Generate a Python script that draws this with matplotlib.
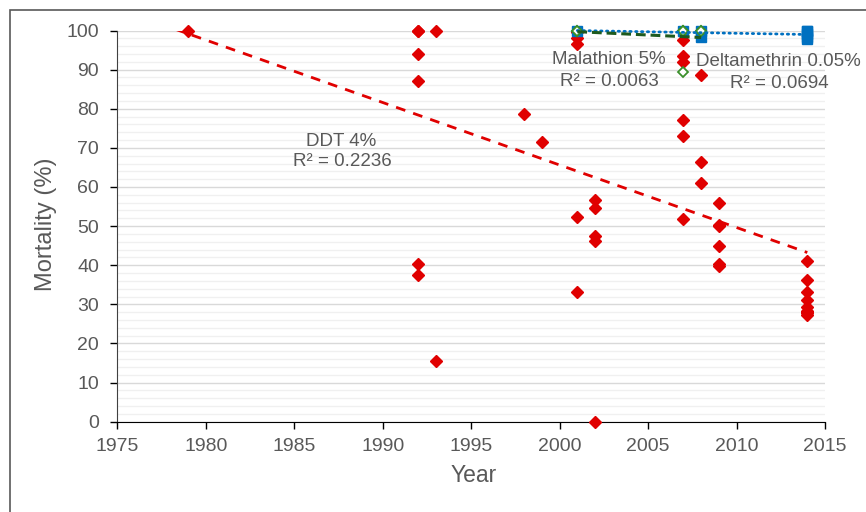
import numpy as np
import matplotlib
matplotlib.use("Agg")
import matplotlib.pyplot as plt
from matplotlib.ticker import MultipleLocator
from matplotlib.patches import Rectangle

plt.rcParams['font.family'] = ['Liberation Sans', 'DejaVu Sans']

# ---- data ----
ddt_years = [1979,
             1992, 1992, 1992, 1992, 1992, 1992,
             1993, 1993,
             1998, 1999,
             2001, 2001, 2001, 2001, 2001,
             2002, 2002, 2002, 2002, 2002,
             2007, 2007, 2007, 2007, 2007, 2007,
             2008, 2008, 2008,
             2009, 2009, 2009, 2009, 2009, 2009,
             2014, 2014, 2014, 2014, 2014, 2014, 2014, 2014, 2014]
ddt_mort = [100,
            100, 100, 94, 87, 40.2, 37.6,
            100, 15.5,
            78.6, 71.4,
            99.5, 98, 96.5, 52.3, 33.2,
            56.7, 54.6, 47.5, 46.2, 0,
            97.5, 93.5, 92, 77, 73, 51.8,
            88.7, 66.3, 60.9,
            55.9, 50.2, 49.9, 44.9, 40.2, 39.9,
            41.1, 36.1, 33.2, 31.2, 29.4, 28.4, 28.0, 27.8, 27.4]

delta_years = [2001, 2007, 2008, 2008, 2014, 2014, 2014, 2014, 2014]
delta_mort = [100, 100, 100, 98.3, 100, 100, 99, 98.3, 97.7]

mala_years = [2001, 2001, 2007, 2007, 2007, 2007, 2008, 2008]
mala_mort = [100, 100, 100, 100, 100, 89.5, 100, 100]

x_ticks = [1975, 1980, 1985, 1990, 1995, 2000, 2005, 2010, 2015]
y_ticks = [0, 10, 20, 30, 40, 50, 60, 70, 80, 90, 100]

RED = '#e00000'
BLUE = '#0070c0'
GREEN = '#3a8f2a'
DKGREEN = '#1e5a1e'
GREY = '#595959'

W, H = 866, 512
fig = plt.figure(figsize=(W / 100, H / 100), dpi=100)
x0, x1, yb, yt = 117.3, 825.0, 421.7, 30.5
ax = fig.add_axes([x0 / W, 1 - yb / H, (x1 - x0) / W, (yb - yt) / H])

# chart-area border (only top/left visible)
fig.patches.append(Rectangle((9.5 / W, -0.5), 2.0, 0.5 + 1 - 9.5 / H,
                             transform=fig.transFigure, fill=False,
                             edgecolor='#595959', lw=1.2))

ax.set_xlim(1975, 2015)
ax.set_ylim(0, 100)
ax.set_xticks(x_ticks)
ax.set_yticks(y_ticks)
ax.yaxis.set_minor_locator(MultipleLocator(2))
ax.grid(which='major', axis='y', color='#d9d9d9', lw=1.0, zorder=0)
ax.grid(which='minor', axis='y', color='#f0f0f0', lw=1.0, zorder=0)
ax.set_axisbelow(True)
for s in ['top', 'right']:
    ax.spines[s].set_visible(False)
ax.spines['left'].set_color('#404040')
ax.spines['bottom'].set_color('#000000')
ax.tick_params(axis='both', which='major', direction='out', length=5,
               width=1, color='#000000', labelsize=14, labelcolor=GREY)
ax.tick_params(axis='y', which='major', pad=8)
ax.tick_params(axis='x', which='major', pad=7)
ax.tick_params(which='minor', length=0)

# markers
ax.plot(ddt_years, ddt_mort, linestyle='none', marker='D', ms=6.0,
        color=RED, mec=RED, clip_on=False, zorder=3)
ax.plot(delta_years, delta_mort, linestyle='none', marker='s', ms=7.5,
        color=BLUE, mec=BLUE, clip_on=False, zorder=4)
ax.plot(mala_years, mala_mort, linestyle='none', marker='D', ms=5.0,
        mfc='white', mec=GREEN, mew=1.3, clip_on=False, zorder=5)


def trend(xs, ys, back=0.0):
    xs = np.asarray(xs, float)
    ys = np.asarray(ys, float)
    k, b = np.polyfit(xs, ys, 1)
    xx = np.array([xs.min() - back, xs.max()])
    return xx, k * xx + b


tx, ty = trend(ddt_years, ddt_mort, back=0.75)
ax.plot(tx, ty, color=RED, lw=2.0, dashes=(3.5, 3.0), zorder=6, clip_on=True)
tx, ty = trend(delta_years, delta_mort)
ax.plot(tx, ty, color=BLUE, lw=2.0, linestyle=(0, (0.5, 1.6)),
        dash_capstyle='round', zorder=6, clip_on=False)
tx, ty = trend(mala_years, mala_mort)
ax.plot(tx, ty, color=DKGREEN, lw=2.2, dashes=(3.2, 1.6), zorder=7,
        clip_on=False)

# labels
fig.text(46 / W, 1 - 224 / H, 'Mortality (%)', rotation=90, ha='center',
         va='center', fontsize=17, color=GREY)
fig.text(474 / W, 1 - 476 / H, 'Year', ha='center', va='center',
         fontsize=16.5, color=GREY)

ann = [(341, 141, 'DDT 4%'), (342, 162, 'R² = 0.2236'),
       (609, 60, 'Malathion 5%'), (609, 81, 'R² = 0.0063'),
       (778, 62, 'Deltamethrin 0.05%'), (779, 83, 'R² = 0.0694')]
for px, py, t in ann:
    fig.text(px / W, 1 - py / H, t, ha='center', va='center',
             fontsize=13.5, color=GREY)

fig.savefig('out.png', dpi=100)
